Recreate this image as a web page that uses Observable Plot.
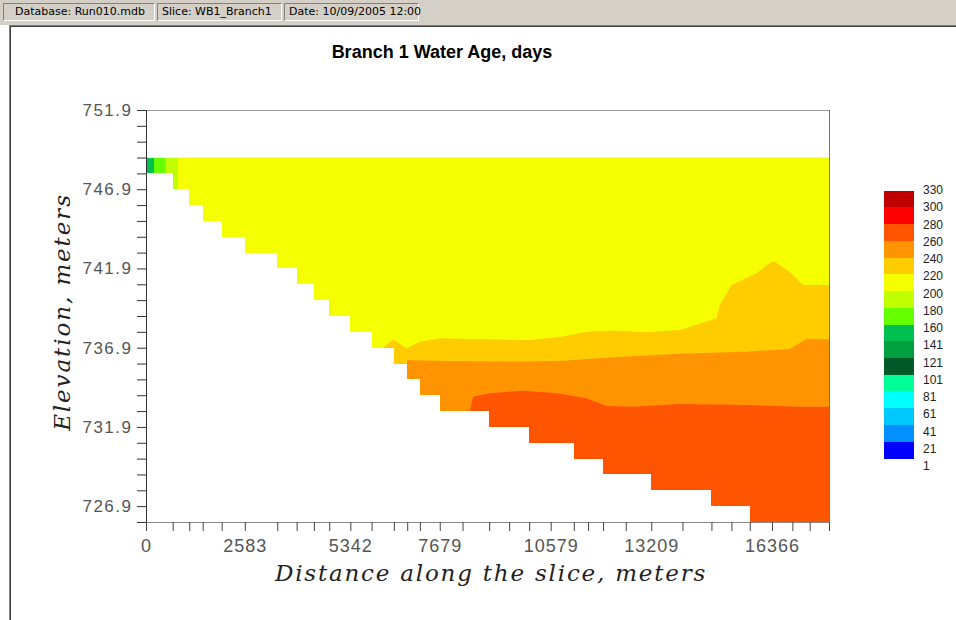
<!DOCTYPE html>
<html>
<head>
<meta charset="utf-8">
<script src="https://cdn.jsdelivr.net/npm/d3@7"></script>
<script src="https://cdn.jsdelivr.net/npm/@observablehq/plot@0.6"></script>
<style>
  html, body { margin: 0; background: #fff; overflow: hidden; }
  #wrap { position: relative; width: 956px; height: 620px; overflow: hidden; background: #fff; }
  #bar { position: absolute; left: 0; top: 0; width: 956px; height: 25px; background: #d4d0c8; }
  .box { position: absolute; top: 3px; height: 18px; box-sizing: border-box;
         border-top: 1px solid #808080; border-left: 1px solid #808080;
         border-bottom: 1px solid #ffffff; border-right: 1px solid #ffffff;
         font: 11px "DejaVu Sans", sans-serif; line-height: 16px; color: #000; padding-left: 4px; white-space: nowrap; }
  #win { position: absolute; left: 9px; top: 25px; width: 947px; height: 595px; box-sizing: border-box;
         border-left: 1px solid #808080; border-top: 1px solid #808080; }
  #win2 { position: absolute; left: 10px; top: 26px; width: 946px; height: 594px; box-sizing: border-box;
         border-left: 1px solid #404040; border-top: 1px solid #404040; }
  #chart { position: absolute; left: 0; top: 0; }
  #title { position: absolute; left: 442px; top: 42px; transform: translateX(-50%);
           font: bold 18px "Liberation Sans", Arial, sans-serif; color: #000; white-space: nowrap; }
  .axt { position: absolute; font: italic 23px "DejaVu Serif", serif; color: #222; white-space: nowrap; }
  #ytitle { left: 62px; top: 312px; transform: translate(-50%, -50%) rotate(-90deg); letter-spacing: 1.9px; }
  #xtitle { left: 491px; top: 573px; transform: translate(-50%, -50%); letter-spacing: 1.8px; }
  .lgbox { position: absolute; left: 884px; width: 30px; }
  .lglab { position: absolute; left: 923px; font: 12px "Liberation Sans", Arial, sans-serif; color: #222; transform: translateY(-50%); line-height: 12px; }
  svg [aria-label="y-axis tick label"] text { letter-spacing: 1.5px; }
  svg [aria-label="x-axis tick label"] text { letter-spacing: 1px; }
</style>
</head>
<body>
<div id="wrap">
  <div id="bar">
    <div class="box" style="left:3px;width:152px;padding-left:11px">Database: Run010.mdb</div>
    <div class="box" style="left:157px;width:125px">Slice: WB1_Branch1</div>
    <div class="box" style="left:284px;width:135px">Date: 10/09/2005 12:00</div>
  </div>
  <div id="win"></div>
  <div id="win2"></div>
  <div id="chart"></div>
  <div id="title">Branch 1 Water Age, days</div>
  <div id="ytitle" class="axt">Elevation, meters</div>
  <div id="xtitle" class="axt">Distance along the slice, meters</div>
</div>
<script>
// ---- data ----
// segment boundaries along the slice (m) — also the x-axis ticks
const xEdges = [0, 698, 1131, 1482, 1978, 2583, 3431, 3938, 4390, 4790, 5342, 5898, 6480, 6828, 7160, 7679,
  8275, 8970, 9493, 10016, 10579, 11184, 11557, 11949, 12542, 13209, 14024, 14782, 15304, 15783, 16366,
  16898, 17350, 17855];
const xTickLabels = [0, 2583, 5342, 7679, 10579, 13209, 16366];
// bed (bottom) elevation of each segment (m)
const bedElev = [747.9, 746.9, 745.9, 744.9, 743.9, 742.9, 741.9, 740.9, 739.9, 738.9, 737.9, 736.9, 735.9,
  734.9, 733.9, 732.9, 732.9, 731.9, 731.9, 730.9, 730.9, 729.9, 729.9, 728.9, 728.9, 727.9, 727.9, 726.9,
  726.9, 725.9, 725.9, 725.9, 725.9];
const surfaceElev = 748.9;
const yMin = 725.9, yMax = 751.9;
const yTicks = [725.9, 726.9, 727.9, 728.9, 729.9, 730.9, 731.9, 732.9, 733.9, 734.9, 735.9, 736.9, 737.9,
  738.9, 739.9, 740.9, 741.9, 742.9, 743.9, 744.9, 745.9, 746.9, 747.9, 748.9, 749.9, 750.9, 751.9];
const yTickLabels = [726.9, 731.9, 736.9, 741.9, 746.9, 751.9];

// contour boundaries (x in m, elevation in m)
const b220X = [6062, 6462, 6812, 7160, 7682, 8727, 10034, 10904, 11516, 12211, 13083, 13953, 14912, 14999,
  15304, 15958, 16350, 16436, 16828, 17175, 17855];
const b220Y = [736.63, 737.43, 736.87, 737.28, 737.50, 737.43, 737.39, 737.60, 737.91, 737.98, 737.87, 738.02,
  738.76, 739.60, 740.86, 741.60, 742.33, 742.33, 741.70, 740.86, 740.86];
const b240X = [6790, 6830, 7857, 9598, 10904, 12211, 13953, 15696, 16828, 17264, 17855];
const b240Y = [735.50, 736.13, 736.06, 736.02, 736.08, 736.30, 736.51, 736.65, 736.82, 737.43, 737.43];
const b260X = [8335, 8466, 8553, 8989, 9859, 10732, 11516, 12038, 12733, 13953, 15696, 17003, 17855];
const b260Y = [732.34, 732.93, 733.81, 734.03, 734.19, 734.03, 733.71, 733.22, 733.18, 733.35, 733.29, 733.18, 733.18];

// small cells near the upstream end (x1, x2, top, bottom, age)
const cellX1 = [0, 209, 496, 698];
const cellX2 = [209, 496, 836, 836];
const cellTop = [748.9, 748.9, 748.9, 747.9];
const cellBot = [747.9, 747.9, 747.9, 746.9];
const cellAge = [150, 170, 190, 190];

// legend (ascending)
const legendLabels = [1, 21, 41, 61, 81, 101, 121, 141, 160, 180, 200, 220, 240, 260, 280, 300, 330];
const legendColors = ["#0000ff", "#0090ff", "#00c8ff", "#00ffff", "#00ff99", "#005a28", "#00a040", "#00c050",
  "#66ff00", "#c0ff00", "#f5ff00", "#ffcc00", "#ff9400", "#ff5500", "#ff0000", "#c00000"];

// ---- build tables ----
const band = (xs, ys, age) => xs.map((x, i) => ({x, y1: yMin, y2: ys[i], age}));
const water = [{x: 0, y1: yMin, y2: surfaceElev, age: 210}, {x: xEdges[xEdges.length - 1], y1: yMin, y2: surfaceElev, age: 210}];
const ground = xEdges.map((x, i) => ({x, y1: yMin, y2: i < bedElev.length ? bedElev[i] : bedElev[bedElev.length - 1]}));
const cells = cellX1.map((x1, i) => ({x1, x2: cellX2[i], y1: cellBot[i], y2: cellTop[i], age: cellAge[i]}));

const chart = Plot.plot({
  width: 956,
  height: 620,
  marginLeft: 146,
  marginRight: 127,
  marginTop: 110,
  marginBottom: 98,
  style: {fontFamily: "Liberation Sans, Arial, sans-serif", color: "#333", background: "transparent"},
  x: {domain: [0, 17855], label: null},
  y: {domain: [yMin, yMax], label: null},
  color: {type: "threshold", domain: legendLabels.slice(1, -1), range: legendColors},
  marks: [
    Plot.areaY(water, {x: "x", y1: "y1", y2: "y2", fill: "age"}),
    Plot.areaY(band(b220X, b220Y, 230), {x: "x", y1: "y1", y2: "y2", fill: "age"}),
    Plot.areaY(band(b240X, b240Y, 250), {x: "x", y1: "y1", y2: "y2", fill: "age"}),
    Plot.areaY(band(b260X, b260Y, 270), {x: "x", y1: "y1", y2: "y2", fill: "age"}),
    Plot.rect(cells, {x1: "x1", x2: "x2", y1: "y1", y2: "y2", fill: "age", shapeRendering: "crispEdges"}),
    Plot.areaY(ground, {x: "x", y1: "y1", y2: "y2", fill: "white", curve: "step-after", shapeRendering: "crispEdges"}),
    Plot.ruleY([yMax], {stroke: "#999"}),
    Plot.ruleX([17855], {stroke: "#777"}),
    Plot.ruleY([yMin], {stroke: "#888"}),
    Plot.ruleX([0], {stroke: "#333"}),
    Plot.axisY({ticks: yTicks, tickFormat: d => yTickLabels.includes(d) ? d.toFixed(1) : "",
      tickSize: 9, tickPadding: 5, fontSize: 17, stroke: "#333", fill: "#555", label: null}),
    Plot.axisX({ticks: xEdges, tickFormat: d => xTickLabels.includes(d) ? String(d) : "",
      tickSize: 9, tickPadding: 8, fontSize: 18, stroke: "#444", fill: "#555", label: null})
  ]
});
document.getElementById("chart").appendChild(chart);

// legend
const wrap = document.getElementById("wrap");
const boxTop = 190.7, boxH = 16.73, labTop = 190, labStep = 17.25;
const nBox = legendColors.length;
for (let i = 0; i < nBox; i++) {
  const d = document.createElement("div");
  d.className = "lgbox";
  d.style.top = (boxTop + i * boxH) + "px";
  d.style.height = (boxH + 0.3) + "px";
  d.style.background = legendColors[nBox - 1 - i];
  wrap.appendChild(d);
}
for (let i = 0; i < legendLabels.length; i++) {
  const l = document.createElement("div");
  l.className = "lglab";
  l.style.top = (labTop + i * labStep) + "px";
  l.textContent = legendLabels[legendLabels.length - 1 - i];
  wrap.appendChild(l);
}
</script>
</body>
</html>
